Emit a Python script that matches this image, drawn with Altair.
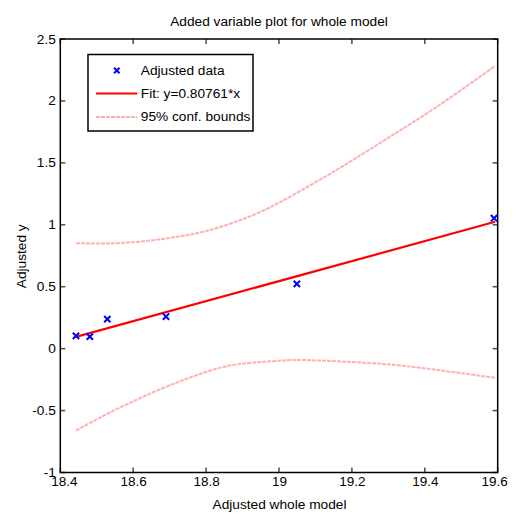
import altair as alt
import pandas as pd

# ---- data ----
adj_x = [18.443, 18.481, 18.529, 18.690, 19.049, 19.590]
adj_y = [0.103, 0.097, 0.238, 0.259, 0.523, 1.053]

fit_x = [18.443, 19.593]
fit_y = [0.095, 1.024]

upper_x = [18.443, 18.584, 18.721, 18.811, 18.902, 19.003, 19.159, 19.296, 19.434, 19.593]
upper_y = [0.851, 0.856, 0.903, 0.958, 1.047, 1.183, 1.445, 1.695, 1.955, 2.282]

lower_x = [18.443, 18.537, 18.674, 18.811, 18.902, 19.003, 19.085, 19.250, 19.387, 19.593]
lower_y = [-0.661, -0.515, -0.328, -0.178, -0.121, -0.097, -0.093, -0.117, -0.154, -0.236]

x_ticks = [18.4, 18.6, 18.8, 19.0, 19.2, 19.4, 19.6]
y_ticks = [-1, -0.5, 0, 0.5, 1, 1.5, 2, 2.5]

legend_labels = ["Adjusted data", "Fit: y=0.80761*x", "95% conf. bounds"]

title_text = "Added variable plot for whole model"
x_title = "Adjusted whole model"
y_title = "Adjusted y"

# ---- layout ----
W, H = 437.4, 433.5
FONT = "Liberation Sans"
FS = 13.7
BLUE = "#0000ff"
RED = "#ff0000"
PINK = "#ffb0b0"
CROSS = "M-1,-1L1,1M-1,1L1,-1"

xs = alt.Scale(domain=[18.4, 19.6], nice=False, zero=False)
ys = alt.Scale(domain=[-1, 2.5], nice=False, zero=False)

x_axis = alt.Axis(values=x_ticks, labelExpr="'' + datum.value", title=x_title,
                  labelPadding=2.5, labelFlush=True, labelFlushOffset=9.5,
                  labelFontSize=13.5, titleX=W / 2, titleY=36,
                  titleBaseline="alphabetic", titleAlign="center")
y_axis = alt.Axis(values=y_ticks, labelExpr="'' + datum.value", title=y_title,
                  labelPadding=5, labelFlush=False, titleX=-39, titleY=H / 2,
                  titleAngle=270, titleBaseline="middle", titleAlign="center")

df_adj = pd.DataFrame({"x": adj_x, "y": adj_y})
df_fit = pd.DataFrame({"x": fit_x, "y": fit_y})
df_up = pd.DataFrame({"x": upper_x, "y": upper_y})
df_lo = pd.DataFrame({"x": lower_x, "y": lower_y})
df_xt = pd.DataFrame({"v": x_ticks})
df_yt = pd.DataFrame({"v": y_ticks})
one = pd.DataFrame({"k": [0]})

upper = alt.Chart(df_up).mark_line(color=PINK, strokeWidth=2, strokeDash=[4, 1],
                                   interpolate="natural").encode(
    x=alt.X("x:Q", scale=xs, axis=x_axis), y=alt.Y("y:Q", scale=ys, axis=y_axis))
lower = alt.Chart(df_lo).mark_line(color=PINK, strokeWidth=2, strokeDash=[4, 1],
                                   interpolate="natural").encode(
    x=alt.X("x:Q", scale=xs), y=alt.Y("y:Q", scale=ys))
fit = alt.Chart(df_fit).mark_line(color=RED, strokeWidth=2.2).encode(
    x=alt.X("x:Q", scale=xs), y=alt.Y("y:Q", scale=ys))
pts = alt.Chart(df_adj).mark_point(shape=CROSS, size=40, color=BLUE, strokeWidth=2,
                                   filled=False, opacity=1).encode(
    x=alt.X("x:Q", scale=xs), y=alt.Y("y:Q", scale=ys))

# inward ticks on all four sides
tk = dict(color="black", thickness=1.5, size=5)
xt_b = alt.Chart(df_xt).mark_tick(orient="vertical", **tk).encode(
    x=alt.X("v:Q", scale=xs), y=alt.value(H - 2.5))
xt_t = alt.Chart(df_xt).mark_tick(orient="vertical", **tk).encode(
    x=alt.X("v:Q", scale=xs), y=alt.value(2.5))
yt_l = alt.Chart(df_yt).mark_tick(orient="horizontal", **tk).encode(
    y=alt.Y("v:Q", scale=ys), x=alt.value(2.5))
yt_r = alt.Chart(df_yt).mark_tick(orient="horizontal", **tk).encode(
    y=alt.Y("v:Q", scale=ys), x=alt.value(W - 2.5))

# chart title as text above the plot
title = alt.Chart(one).mark_text(align="center", baseline="alphabetic", font=FONT,
                                 fontSize=FS, color="black").encode(
    x=alt.value(W / 2), y=alt.value(-13), text=alt.value(title_text))

# legend (drawn as decoration)
lx0, ly0 = 27.7, 15.5
box = alt.Chart(one).mark_rect(fill="white", stroke="black", strokeWidth=1.5).encode(
    x=alt.value(lx0), x2=alt.value(lx0 + 165), y=alt.value(ly0), y2=alt.value(ly0 + 76.5))
rows_y = [31.5, 54.5, 78]
leg_pt = alt.Chart(one).mark_point(shape=CROSS, size=30, color=BLUE, strokeWidth=2,
                                   filled=False, opacity=1).encode(
    x=alt.value(56.5), y=alt.value(rows_y[0]))
leg_fit = alt.Chart(one).mark_rule(color=RED, strokeWidth=2.2).encode(
    x=alt.value(35.7), x2=alt.value(77), y=alt.value(rows_y[1]))
leg_cb = alt.Chart(one).mark_rule(color=PINK, strokeWidth=2, strokeDash=[4, 1]).encode(
    x=alt.value(35.7), x2=alt.value(77), y=alt.value(rows_y[2]))
leg_txt = [
    alt.Chart(one).mark_text(align="left", baseline="middle", font=FONT, fontSize=FS,
                             color="black").encode(
        x=alt.value(80.5), y=alt.value(yy), text=alt.value(lab))
    for lab, yy in zip(legend_labels, rows_y)
]

chart = alt.layer(
    upper, lower, fit, pts, xt_b, xt_t, yt_l, yt_r, title,
    box, leg_pt, leg_fit, leg_cb, *leg_txt
).properties(
    width=W, height=H,
    autosize=alt.AutoSizeParams(type="none"),
    padding={"left": 52.3, "top": 31, "right": 10, "bottom": 42},
    background="white",
).configure_axis(
    domain=False, ticks=False, grid=False, labelFont=FONT, labelFontSize=FS,
    labelColor="black", titleFont=FONT, titleFontSize=FS, titleFontWeight="normal",
    titleColor="black",
).configure_view(stroke="black", strokeWidth=1.5)

chart.save("out.html", embed_options={"renderer": "svg", "actions": False})
